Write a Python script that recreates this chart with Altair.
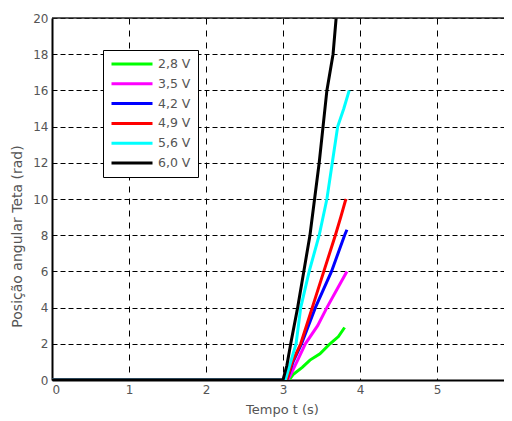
import altair as alt
import pandas as pd

labels = ["2,8 V", "3,5 V", "4,2 V", "4,9 V", "5,6 V", "6,0 V"]
colors = ["#00ff00", "#ff00ff", "#0000ff", "#ff0000", "#00ffff", "#000000"]

t_28 = [0, 3.08, 3.13, 3.25, 3.35, 3.48, 3.61, 3.72, 3.80]
v_28 = [0, 0, 0.3, 0.7, 1.1, 1.45, 2.0, 2.4, 2.9]

t_35 = [0, 3.06, 3.10, 3.18, 3.29, 3.45, 3.57, 3.70, 3.83]
v_35 = [0, 0, 0.3, 1.0, 2.0, 3.0, 4.0, 5.0, 6.0]

t_42 = [0, 3.05, 3.13, 3.24, 3.42, 3.63, 3.80, 3.83]
v_42 = [0, 0, 1.0, 2.0, 4.0, 6.0, 8.0, 8.3]

t_49 = [0, 3.05, 3.12, 3.23, 3.38, 3.53, 3.68, 3.75, 3.81, 3.82]
v_49 = [0, 0, 1.0, 2.0, 4.0, 6.0, 8.0, 9.0, 9.9, 10.0]

t_56 = [0, 3.03, 3.10, 3.17, 3.23, 3.34, 3.47, 3.57, 3.64, 3.71, 3.79, 3.86]
v_56 = [0, 0, 1.0, 2.0, 4.0, 6.0, 8.0, 10.0, 12.0, 14.0, 15.0, 16.0]

t_60 = [0, 3.00, 3.05, 3.10, 3.19, 3.27, 3.35, 3.41, 3.47, 3.52, 3.57, 3.65, 3.69]
v_60 = [0, 0, 0.8, 2.0, 4.0, 6.0, 8.0, 10.0, 12.0, 14.0, 16.0, 18.0, 20.0]

series = [(labels[0], t_28, v_28), (labels[1], t_35, v_35), (labels[2], t_42, v_42),
          (labels[3], t_49, v_49), (labels[4], t_56, v_56), (labels[5], t_60, v_60)]

rows = []
for name, ts, vs in series:
    for i, (t, v) in enumerate(zip(ts, vs)):
        rows.append({"serie": name, "t": t, "v": v, "i": i})
df = pd.DataFrame(rows)

x_ticks = [0, 1, 2, 3, 4, 5]
y_ticks = [0, 2, 4, 6, 8, 10, 12, 14, 16, 18, 20]

FONT = "DejaVu Sans"
TXT = "#555555"

xscale = alt.Scale(domain=[0, 5.87], nice=False, zero=False)
yscale = alt.Scale(domain=[0, 20], nice=False)

y_axis = alt.Axis(values=y_ticks, grid=True, ticks=False, labelPadding=4,
                  titleX=-28, titleY=218, titleFontSize=14, gridDash=[5, 3],
                  domainColor="black", domainWidth=2)
y_title = "Posição angular Teta (rad)"

lines = alt.Chart(df).mark_line(strokeWidth=3, clip=True).encode(
    x=alt.X("t:Q", scale=xscale, title="Tempo t (s)",
            axis=alt.Axis(values=x_ticks, grid=True, ticks=False, labelPadding=4,
                          titleX=230, titleY=23, titleBaseline="top",
                          titleFontSize=13, gridDash=[6, 6],
                          domainColor="black", domainWidth=2)),
    y=alt.Y("v:Q", scale=yscale, title=y_title, axis=y_axis),
    color=alt.Color("serie:N", scale=alt.Scale(domain=labels, range=colors),
                    legend=alt.Legend(title=None, orient="none", legendX=51, legendY=32,
                                      symbolType="stroke", symbolSize=1681,
                                      symbolStrokeWidth=3, clipHeight=14,
                                      rowPadding=5.8, labelOffset=4, padding=7,
                                      strokeColor="black", fillColor="white",
                                      labelFont=FONT, labelFontSize=12.5,
                                      labelColor=TXT)),
    order=alt.Order("i:Q"),
)

top = alt.Chart(pd.DataFrame({"v": [20]})).mark_rule(color="#222222", strokeWidth=1.5).encode(
    y=alt.Y("v:Q", scale=yscale, title=y_title, axis=y_axis)
)

chart = alt.layer(lines, top).properties(
    width=452, height=362,
    autosize=alt.AutoSizeParams(type="none"),
    padding={"left": 44, "top": 10, "right": 0, "bottom": 37},
).configure_view(stroke=None).configure_axis(
    gridColor="black", gridOpacity=1, gridWidth=1,
    labelFont=FONT, labelFontSize=12, labelColor=TXT,
    titleFont=FONT, titleColor=TXT, titleFontWeight="normal",
)

chart.save("out.html", embed_options={"renderer": "svg", "actions": False})
